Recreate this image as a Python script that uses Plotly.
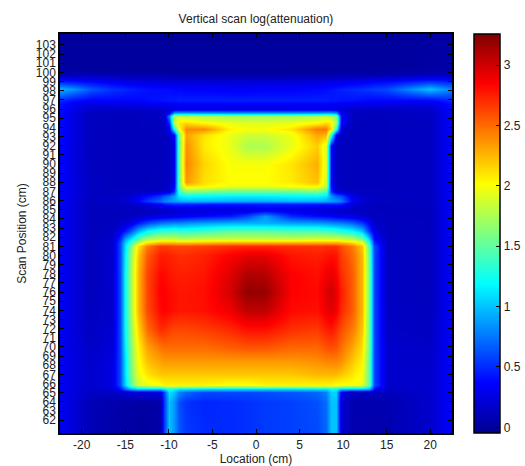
import plotly.graph_objects as go

title = "Vertical scan log(attenuation)"
x_label = "Location (cm)"
y_label = "Scan Position (cm)"
x_ticks = [-20, -15, -10, -5, 0, 5, 10, 15, 20]
x_ticktext = ["-20", "-15", "-10", "-5", "0", "5", "10", "15", "20"]
y_ticks = list(range(62, 104))
cbar_ticks = [0, 0.5, 1, 1.5, 2, 2.5, 3]
cbar_ticktext = ["0", "0.5", "1", "1.5", "2", "2.5", "3"]

location_cm = [-22.5, -21, -19, -16.5, -15.6, -15, -14.3, -13.5, -12.5, -11, -10.6, -10, -9.4, -8.8, -8, -6,
               -3, -1, 1, 4, 7, 8, 8.6, 9.2, 9.8, 11, 12.2, 13, 13.6, 15, 20, 22.5]
scan_cm = [60.6, 64, 65.1, 65.45, 65.8, 67, 68.5, 70, 72, 74, 76, 78, 80, 81, 81.4, 81.8, 82.7, 83.5, 84.3, 85,
           85.6, 86, 86.5, 87, 87.6, 88, 90, 92, 93.2, 93.8, 94.5, 95.2, 95.6, 96, 96.5, 97, 98.15, 99, 99.7, 100.3, 104.2]

log_attenuation = [
 [.33,.22,.10,.05,.04,.04,.03,.02,.02,.05,.55,1.0,.85,.65,.55,.50,.50,.52,.55,.57,.60,.70,1.0,1.0,.20,.08,.07,.07,.07,.07,.18,.36],
 [.33,.22,.10,.07,.05,.05,.04,.03,.03,.05,.55,1.0,.85,.62,.52,.48,.50,.52,.55,.57,.62,.72,1.0,1.0,.20,.08,.07,.07,.07,.08,.18,.36],
 [.33,.25,.15,.15,.18,.20,.22,.25,.25,.25,.60,1.1,1.0,.80,.70,.60,.60,.60,.62,.65,.70,.80,1.05,1.05,.30,.15,.15,.15,.15,.12,.18,.36],
 [.33,.25,.18,.22,.40,.70,.90,1.0,1.0,1.0,1.1,1.3,1.2,1.1,1.1,1.05,1.05,1.05,1.05,1.05,1.1,1.1,1.2,1.2,1.0,.95,.95,.90,.40,.15,.18,.36],
 [.33,.25,.18,.25,.60,1.05,1.5,1.85,1.95,2.0,2.05,2.05,2.05,2.05,2.05,2.05,2.0,2.0,2.05,2.05,2.05,2.05,2.05,2.0,2.0,2.0,1.95,1.5,.60,.18,.18,.36],
 [.33,.25,.18,.25,.60,1.1,1.6,1.95,2.1,2.2,2.2,2.2,2.2,2.2,2.2,2.2,2.2,2.2,2.2,2.2,2.25,2.25,2.25,2.25,2.2,2.1,2.0,1.5,.60,.18,.18,.36],
 [.33,.25,.18,.25,.60,1.1,1.62,2.0,2.22,2.32,2.35,2.35,2.35,2.35,2.35,2.35,2.35,2.35,2.35,2.35,2.38,2.42,2.42,2.42,2.38,2.2,2.05,1.5,.60,.18,.18,.36],
 [.33,.25,.16,.22,.60,1.15,1.65,2.05,2.32,2.47,2.5,2.5,2.5,2.5,2.5,2.5,2.55,2.58,2.58,2.52,2.52,2.58,2.6,2.58,2.48,2.32,2.12,1.55,.60,.18,.16,.36],
 [.33,.24,.14,.20,.60,1.2,1.7,2.15,2.5,2.7,2.7,2.65,2.62,2.62,2.62,2.65,2.72,2.8,2.8,2.7,2.66,2.75,2.78,2.7,2.6,2.45,2.2,1.55,.60,.16,.14,.36],
 [.33,.24,.13,.18,.60,1.2,1.75,2.25,2.6,2.82,2.85,2.82,2.8,2.78,2.78,2.8,2.9,3.05,3.05,2.82,2.8,2.9,2.95,2.88,2.72,2.55,2.25,1.55,.60,.15,.13,.36],
 [.33,.24,.12,.18,.60,1.2,1.75,2.25,2.62,2.85,2.85,2.82,2.8,2.78,2.78,2.8,2.98,3.2,3.18,2.85,2.82,2.95,3.0,2.92,2.75,2.55,2.25,1.55,.60,.14,.12,.36],
 [.33,.24,.12,.18,.60,1.2,1.75,2.25,2.62,2.82,2.82,2.78,2.76,2.75,2.75,2.78,2.95,3.1,3.08,2.85,2.8,2.88,2.92,2.85,2.7,2.55,2.25,1.55,.60,.14,.12,.36],
 [.33,.24,.12,.18,.60,1.15,1.7,2.2,2.55,2.75,2.75,2.74,2.72,2.7,2.7,2.74,2.85,2.92,2.92,2.78,2.75,2.78,2.8,2.78,2.65,2.5,2.25,1.5,.60,.14,.12,.36],
 [.33,.24,.12,.18,.60,1.1,1.6,2.1,2.45,2.65,2.65,2.65,2.62,2.62,2.62,2.65,2.7,2.72,2.72,2.7,2.68,2.7,2.7,2.7,2.6,2.45,2.2,1.45,.60,.14,.12,.36],
 [.33,.24,.12,.18,.60,1.05,1.4,1.85,2.15,2.3,2.3,2.3,2.3,2.28,2.28,2.3,2.35,2.35,2.35,2.35,2.35,2.35,2.35,2.35,2.3,2.2,2.0,1.3,.50,.14,.12,.36],
 [.33,.24,.12,.16,.50,.90,1.15,1.5,1.75,1.85,1.85,1.85,1.85,1.8,1.8,1.85,1.85,1.85,1.85,1.85,1.9,1.9,1.9,1.9,1.85,1.8,1.6,1.05,.40,.14,.12,.36],
 [.33,.24,.12,.14,.30,.45,.65,.95,1.2,1.35,1.35,1.35,1.4,1.35,1.35,1.4,1.5,1.5,1.5,1.45,1.45,1.4,1.4,1.35,1.3,1.2,1.0,.55,.25,.13,.12,.36],
 [.33,.24,.12,.12,.16,.20,.28,.45,.60,.75,.78,.80,.82,.82,.85,.90,.95,.95,.95,.90,.88,.85,.82,.80,.78,.70,.55,.35,.18,.13,.12,.36],
 [.33,.24,.12,.12,.12,.13,.14,.16,.20,.25,.27,.28,.30,.32,.35,.40,.45,.60,.85,.50,.40,.38,.35,.32,.30,.25,.20,.16,.14,.12,.12,.36],
 [.33,.24,.12,.12,.12,.12,.12,.12,.13,.14,.15,.16,.18,.20,.22,.22,.24,.25,.30,.26,.22,.20,.18,.17,.16,.14,.13,.12,.12,.12,.12,.36],
 [.35,.24,.13,.13,.13,.14,.15,.18,.24,.36,.42,.46,.48,.48,.48,.45,.45,.45,.46,.47,.45,.44,.45,.45,.42,.24,.16,.14,.12,.12,.13,.36],
 [.36,.25,.14,.15,.16,.20,.28,.36,.55,.70,.80,.85,.88,.92,.95,.95,.92,.92,.92,.95,.95,.92,.88,.85,.78,.35,.20,.16,.15,.13,.14,.36],
 [.36,.25,.14,.15,.15,.16,.20,.28,.40,.55,.65,.75,.90,1.15,1.2,1.18,1.15,1.15,1.15,1.18,1.18,1.12,.85,.70,.62,.28,.18,.15,.14,.13,.14,.36],
 [.36,.25,.14,.13,.13,.13,.14,.14,.15,.16,.18,.20,.50,1.4,1.65,1.6,1.55,1.55,1.55,1.55,1.6,1.45,.50,.24,.18,.15,.13,.13,.13,.13,.14,.36],
 [.36,.25,.14,.12,.12,.12,.12,.12,.12,.13,.14,.16,.35,1.6,2.1,2.05,1.95,1.95,1.95,2.0,2.05,1.8,.38,.17,.14,.12,.12,.12,.12,.12,.14,.36],
 [.36,.25,.14,.12,.12,.12,.12,.12,.12,.13,.14,.16,.30,1.6,2.35,2.12,2.02,2.02,2.02,2.08,2.22,1.85,.36,.16,.13,.12,.12,.12,.12,.12,.14,.36],
 [.37,.25,.13,.12,.12,.12,.12,.12,.12,.12,.13,.15,.28,1.6,2.42,2.15,2.0,2.0,2.0,2.1,2.28,1.9,.36,.15,.13,.12,.12,.12,.12,.12,.14,.36],
 [.37,.25,.13,.12,.12,.12,.12,.12,.12,.12,.13,.15,.28,1.6,2.38,2.08,1.95,1.75,1.75,1.95,2.18,1.9,.36,.15,.13,.12,.12,.12,.12,.12,.14,.37],
 [.38,.26,.13,.12,.12,.12,.12,.12,.12,.12,.13,.18,.35,1.6,2.32,2.1,1.95,1.85,1.85,1.95,2.3,2.25,1.3,.30,.14,.12,.12,.12,.12,.12,.14,.37],
 [.38,.26,.13,.12,.12,.12,.12,.12,.12,.13,.15,.30,1.25,2.0,2.4,2.4,2.05,2.0,2.0,2.1,2.45,2.45,2.1,1.3,.20,.12,.12,.12,.12,.12,.14,.37],
 [.38,.26,.13,.12,.12,.12,.12,.12,.13,.14,.16,.50,1.75,2.1,2.15,2.05,1.95,1.92,1.92,1.95,2.05,2.15,2.05,1.7,.35,.13,.12,.12,.12,.12,.14,.37],
 [.38,.26,.13,.12,.12,.12,.12,.12,.13,.14,.18,.80,1.75,1.8,1.8,1.75,1.72,1.7,1.7,1.72,1.75,1.8,1.75,1.6,.40,.13,.12,.12,.12,.12,.14,.37],
 [.38,.26,.14,.13,.13,.13,.13,.13,.14,.15,.18,.35,.90,.95,.95,.92,.90,.90,.90,.90,.92,.95,.95,.85,.28,.14,.13,.13,.13,.13,.15,.38],
 [.40,.28,.18,.16,.16,.16,.16,.16,.17,.18,.19,.20,.22,.24,.24,.24,.24,.24,.24,.24,.24,.24,.24,.22,.20,.18,.17,.16,.16,.16,.18,.38],
 [.42,.32,.24,.28,.28,.28,.28,.28,.30,.32,.33,.33,.34,.35,.35,.35,.35,.35,.35,.35,.35,.35,.34,.33,.32,.30,.28,.28,.28,.26,.26,.40],
 [.50,.42,.36,.38,.38,.38,.38,.38,.40,.42,.42,.44,.44,.46,.46,.46,.46,.46,.46,.46,.46,.46,.44,.44,.42,.42,.40,.38,.38,.38,.38,.50],
 [.95,.85,.65,.52,.50,.48,.46,.44,.42,.40,.40,.40,.38,.38,.36,.36,.34,.34,.36,.36,.38,.40,.42,.44,.46,.50,.52,.54,.56,.60,1.0,.78],
 [.50,.45,.40,.34,.32,.30,.28,.28,.26,.26,.24,.24,.24,.24,.24,.24,.24,.24,.24,.24,.26,.28,.28,.30,.30,.32,.34,.36,.38,.40,.55,.48],
 [.12,.12,.12,.10,.08,.08,.08,.08,.08,.08,.06,.06,.06,.06,.06,.06,.06,.06,.06,.06,.06,.06,.08,.08,.08,.08,.08,.08,.08,.10,.14,.14],
 [.02,.02,.01,.01,.01,.01,.01,.01,.01,.01,.01,.01,.01,.01,.01,.01,.01,.01,.01,.01,.01,.01,.01,.01,.01,.01,.01,.01,.01,.01,.03,.05],
 [.01,.01,.00,.00,.00,.00,.00,.00,.00,.00,.00,.00,.00,.00,.00,.00,.00,.00,.00,.00,.00,.00,.00,.00,.00,.00,.00,.00,.00,.00,.02,.04],
]

z_min, z_max = -0.047, 3.257
jet = [[0, "#00008f"], [0.125, "#0000ff"], [0.375, "#00ffff"], [0.625, "#ffff00"], [0.875, "#ff0000"], [1, "#800000"]]

W, H = 525, 466
L, R, T, B = 60, 452, 34, 433
font = "Liberation Sans, Arial, sans-serif"
ink = "#222222"

fig = go.Figure(go.Heatmap(
    x=location_cm, y=scan_cm, z=log_attenuation, zsmooth="best", zmin=z_min, zmax=z_max, colorscale=jet,
    colorbar=dict(
        x=(474 - L) / (R - L), xanchor="left", xpad=0, ypad=0, y=0.5, yanchor="middle", len=1, lenmode="fraction",
        thickness=26, thicknessmode="pixels", outlinecolor="black", outlinewidth=1.5,
        tickvals=cbar_ticks, ticktext=cbar_ticktext, ticks="inside", ticklen=4, tickcolor="black",
        tickfont=dict(family=font, size=12, color=ink),
    ),
))
axis_common = dict(showgrid=False, zeroline=False, showline=True, linecolor="black", linewidth=1.5, mirror="ticks",
                   ticks="inside", ticklen=4, tickcolor="black", tickwidth=1,
                   tickfont=dict(family=font, size=12, color=ink))
fig.update_layout(
    width=W, height=H, autosize=False, paper_bgcolor="white", plot_bgcolor="white",
    margin=dict(l=L, r=W - R, t=T, b=H - B, pad=0, autoexpand=False),
    title=dict(text=title, x=(L + R) / 2 / W, xanchor="center", y=1 - 19 / H, yanchor="middle",
               font=dict(family=font, size=12, color=ink)),
    xaxis=dict(range=[-22.5, 22.5], tickvals=x_ticks, ticktext=x_ticktext,
               title=dict(text=x_label, standoff=4, font=dict(family=font, size=12, color=ink)), **axis_common),
    yaxis=dict(range=[60.6, 104.2], tickvals=y_ticks, ticktext=[str(v) for v in y_ticks],
               title=dict(text=y_label, standoff=7, font=dict(family=font, size=12, color=ink)), **axis_common),
)
fig.write_html("out.html", config={"displayModeBar": False},
               post_script="document.body.style.margin='0';document.documentElement.style.overflow='hidden';")
